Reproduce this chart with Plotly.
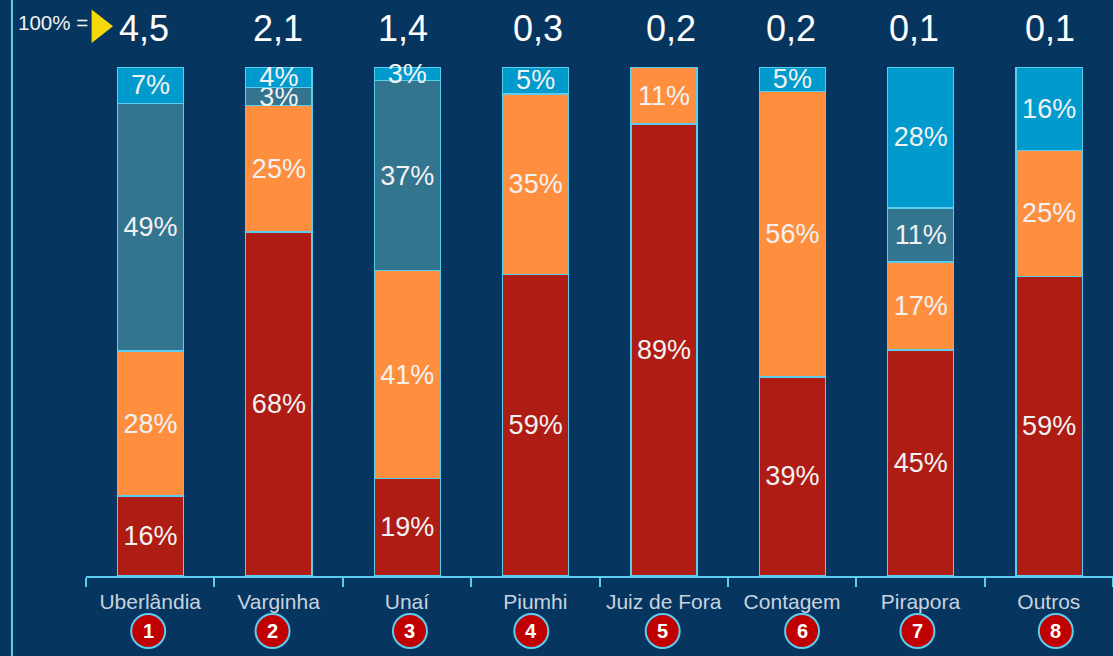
import plotly.graph_objects as go

categories = ["Uberlândia", "Varginha", "Unaí", "Piumhi", "Juiz de Fora", "Contagem", "Pirapora", "Outros"]
totals = ["4,5", "2,1", "1,4", "0,3", "0,2", "0,2", "0,1", "0,1"]
badges = ["1", "2", "3", "4", "5", "6", "7", "8"]
red_values = [15.7, 67.6, 19.1, 59.3, 88.8, 39.1, 44.4, 58.9]
orange_values = [28.5, 24.8, 40.9, 35.4, 11.2, 56.1, 17.3, 24.7]
teal_values = [48.7, 3.5, 37.3, None, None, None, 10.6, None]
blue_values = [7.1, 4.1, 2.7, 5.3, None, 4.8, 27.7, 16.4]
red_labels = ["16%", "68%", "19%", "59%", "89%", "39%", "45%", "59%"]
orange_labels = ["28%", "25%", "41%", "35%", "11%", "56%", "17%", "25%"]
teal_labels = ["49%", "3%", "37%", "", "", "", "11%", ""]
blue_labels = ["7%", "4%", "3%", "5%", "", "5%", "28%", "16%"]

BG = "#06355F"
EDGE = "#5BCDF0"
FONT = "Liberation Sans, Arial, sans-serif"

total_shift = [-6, -1, -4, 3, 7, -1, -6, 1]
badge_shift = [-2, -6, 3, -4, -1, 10, -3, 7]

fig = go.Figure()
for vals, labels, color in [(red_values, red_labels, "#AE1C14"), (orange_values, orange_labels, "#FF8F3F"),
                            (teal_values, teal_labels, "#33748F"), (blue_values, blue_labels, "#009ACD")]:
    fig.add_trace(go.Bar(
        x=categories, y=vals, text=labels, marker=dict(color=color, line=dict(color=EDGE, width=1.2)),
        width=0.515, offset=-0.255, textposition="inside", insidetextanchor="middle",
        textangle=0, constraintext="none", cliponaxis=False,
        textfont=dict(family=FONT, size=27, color="#F2F2F2"), showlegend=False, hoverinfo="x+y"))

shapes = [
    dict(type="line", xref="paper", yref="paper", x0=-0.0721, x1=-0.0721, y0=-0.3, y1=1.3,
         line=dict(color=EDGE, width=2)),
    dict(type="path", xref="paper", yref="paper",
         path="M 0.0055 1.113 L 0.0263 1.080 L 0.0055 1.047 Z",
         fillcolor="#F5D90A", line=dict(width=0)),
]
annotations = [
    dict(text="100% =", xref="paper", yref="paper", x=-0.0682, y=1.088, xanchor="left", yanchor="middle",
         showarrow=False, font=dict(family=FONT, size=20.5, color="#F2F2F2")),
]
for i, cat in enumerate(categories):
    annotations.append(dict(text=totals[i], xref="x", yref="paper", x=cat, y=1.075, xshift=total_shift[i],
                            xanchor="center", yanchor="middle", showarrow=False,
                            font=dict(family=FONT, size=36, color="#FFFFFF")))
    shapes.append(dict(type="circle", xref="x", yref="paper", xsizemode="pixel", ysizemode="pixel",
                       xanchor=i, yanchor=-0.108,
                       x0=badge_shift[i] - 17, x1=badge_shift[i] + 17, y0=-17, y1=17,
                       fillcolor="#C00000", line=dict(color=EDGE, width=2), layer="above"))
    annotations.append(dict(text="<b>%s</b>" % badges[i], xref="x", yref="paper", x=cat, y=-0.108,
                            xshift=badge_shift[i], xanchor="center", yanchor="middle", showarrow=False,
                            font=dict(family=FONT, size=20, color="#FFFFFF")))

fig.update_layout(
    width=1113, height=656, barmode="stack", bargap=0.48,
    paper_bgcolor=BG, plot_bgcolor=BG,
    margin=dict(l=86, r=0, t=67, b=80, pad=0),
    font=dict(family=FONT),
    shapes=shapes, annotations=annotations,
    xaxis=dict(type="category", range=[-0.5, 7.5], tickson="boundaries", ticks="outside", ticklen=9,
               tickcolor=EDGE, tickwidth=1.5, showline=True, linecolor=EDGE, linewidth=1.5,
               showgrid=False, zeroline=False, ticklabelstandoff=6,
               tickfont=dict(family=FONT, size=21, color="#C7D3DF")),
    yaxis=dict(range=[0, 100], visible=False, showgrid=False, zeroline=False),
)
fig.write_html("out.html", config={"displayModeBar": False},
               post_script="document.body.style.margin='0';document.body.style.overflow='hidden';")
